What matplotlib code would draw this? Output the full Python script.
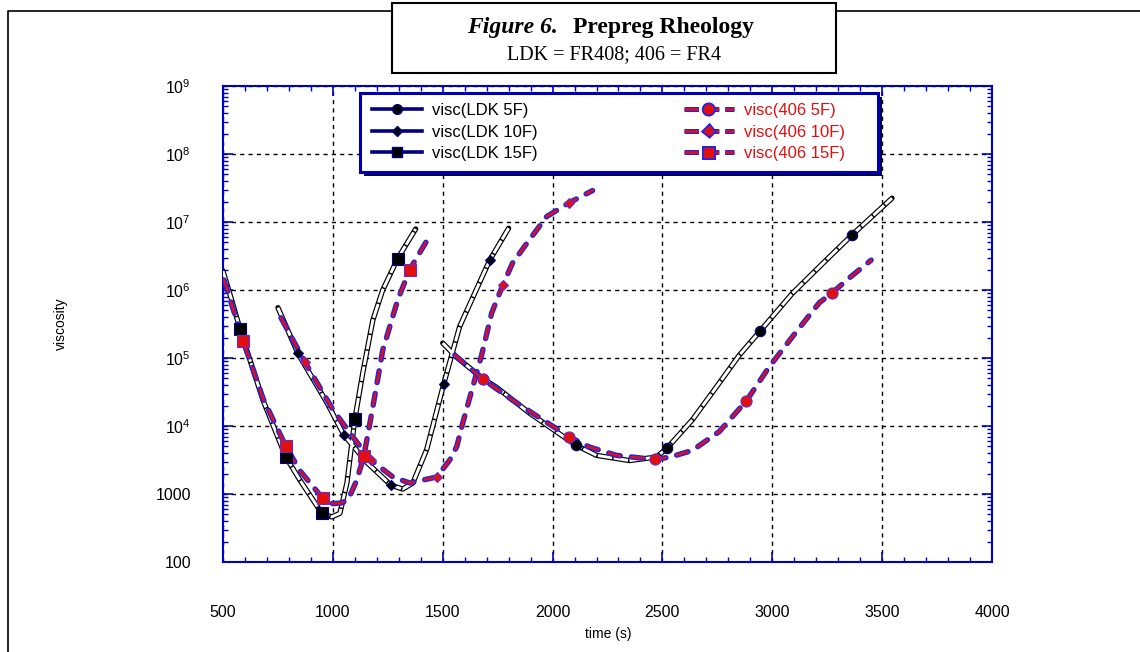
import numpy as np
import matplotlib
matplotlib.use("Agg")
import matplotlib.pyplot as plt
import matplotlib.patheffects as pe
from matplotlib.lines import Line2D
from matplotlib.patches import Rectangle
from matplotlib.ticker import FixedLocator, MultipleLocator, LogLocator, NullFormatter

plt.rcParams['font.family'] = ['Liberation Sans', 'DejaVu Sans']
plt.rcParams['mathtext.fontset'] = 'custom'
plt.rcParams['mathtext.rm'] = 'Liberation Sans'
plt.rcParams['mathtext.it'] = 'Liberation Sans:italic'

# --- data (time in s, viscosity) ---
# LDK (FR408)
t_ldk_5f = [1500, 1564, 1682, 1745, 1895, 2105, 2200, 2350, 2473, 2523, 2636, 2727,
            2850, 2945, 3091, 3245, 3364, 3545]
v_ldk_5f = [1.66e5, 1.02e5, 5.0e4, 3.7e4, 1.55e4, 5250, 3700, 3100, 3500, 4800, 1.23e4, 3.1e4,
            1.1e5, 2.5e5, 8.9e5, 2.75e6, 6.5e6, 2.24e7]
mt_ldk_5f = [1685, 2105, 2523, 2945, 3364]
mv_ldk_5f = [4.9e4, 5250, 4800, 2.5e5, 6.5e6]

t_ldk_10f = [750, 841, 973, 1050, 1155, 1264, 1318, 1364, 1427, 1505, 1577, 1714, 1800]
v_ldk_10f = [5.5e5, 1.17e5, 2.2e4, 7400, 2900, 1350, 1180, 1450, 4500, 4.2e4, 2.9e5, 2.75e6, 8.1e6]
mt_ldk_10f = [841, 1050, 1264, 1505, 1714]
mv_ldk_10f = [1.17e5, 7400, 1350, 4.2e4, 2.75e6]

t_ldk_15f = [500, 540, 577, 623, 682, 786, 850, 950, 995, 1032, 1064, 1100, 1136, 1182,
             1227, 1295, 1377]
v_ldk_15f = [1.9e6, 7.0e5, 2.7e5, 9.3e4, 2.4e4, 3500, 1600, 520, 460, 520, 1450, 1.26e4, 6.0e4, 3.6e5,
             1.0e6, 2.9e6, 7.9e6]
mt_ldk_15f = [577, 786, 950, 1100, 1295]
mv_ldk_15f = [2.7e5, 3500, 520, 1.26e4, 2.9e6]

# 406 (FR4)
t_406_5f = [1555, 1682, 1818, 1941, 2077, 2168, 2291, 2395, 2464, 2532, 2636, 2759, 2882,
            2986, 3091, 3214, 3273, 3350, 3450]
v_406_5f = [1.1e5, 4.9e4, 2.4e4, 1.32e4, 6900, 4900, 3700, 3400, 3240, 3470, 4370, 8300, 2.34e4,
            7.4e4, 2.04e5, 6.5e5, 9.1e5, 1.5e6, 2.75e6]
mt_406_5f = [1682, 2077, 2464, 2882, 3273]
mv_406_5f = [4.9e4, 6900, 3240, 2.34e4, 9.1e5]

t_406_10f = [764, 873, 1000, 1091, 1173, 1273, 1350, 1473, 1532, 1564, 1591, 1636, 1677,
             1723, 1773, 1818, 1895, 1973, 2073, 2182]
v_406_10f = [3.9e5, 8.7e4, 1.74e4, 6900, 3160, 1780, 1450, 1780, 3160, 5000, 1.1e4, 3.7e4, 1.1e5,
             4.6e5, 1.17e6, 2.5e6, 5.5e6, 1.2e7, 1.9e7, 2.9e7]
mt_406_10f = [873, 1173, 1473, 1773, 2073]
mv_406_10f = [8.7e4, 3160, 1780, 1.17e6, 1.9e7]

t_406_15f = [505, 591, 683, 785, 850, 953, 1000, 1040, 1070, 1109, 1141, 1182, 1227, 1295,
             1350, 1445]
v_406_15f = [1.4e6, 1.8e5, 2.5e4, 5100, 2200, 870, 720, 740, 830, 1600, 3600, 1.9e4, 1.3e5, 7.1e5,
             2.0e6, 6.6e6]
mt_406_15f = [591, 785, 953, 1141, 1350]
mv_406_15f = [1.8e5, 5100, 870, 3600, 2.0e6]

xticks = [500, 1000, 1500, 2000, 2500, 3000, 3500, 4000]
yticks = [1e2, 1e3, 1e4, 1e5, 1e6, 1e7, 1e8, 1e9]
ytick_labels = ['100', '1000', r'$\mathregular{10^4}$', r'$\mathregular{10^5}$',
                r'$\mathregular{10^6}$', r'$\mathregular{10^7}$', r'$\mathregular{10^8}$',
                r'$\mathregular{10^9}$']

W, H = 1140, 652
RED = '#e01010'
BLUE = '#2222ee'
NAVY = '#000080'
SPINE = '#0000cc'
DASH = (0, (4.5, 4.2))


def px(x, y):
    """pixel position (from top-left) -> figure fraction"""
    return x / W, 1 - y / H


def ldk_curve(ax, t, v):
    # white double line with small black ticks
    ax.plot(t, v, color='black', lw=3.8, solid_capstyle='round', zorder=3)
    ax.plot(t, v, color='white', lw=2.1, linestyle=(0, (5, 0.5)),
            dash_capstyle='butt', zorder=3.1)


def fr4_curve(ax, t, v):
    ax.plot(t, v, color=RED, lw=1.9, linestyle=DASH, dash_capstyle='round',
            zorder=4, path_effects=[pe.Stroke(linewidth=3.9, foreground=BLUE), pe.Normal()])


fig = plt.figure(figsize=(W / 100, H / 100), dpi=100)
ax = fig.add_axes([223 / W, 1 - 562 / H, 769 / W, 476 / H])

ldk_curve(ax, t_ldk_15f, v_ldk_15f)
ldk_curve(ax, t_ldk_10f, v_ldk_10f)
ldk_curve(ax, t_ldk_5f, v_ldk_5f)
fr4_curve(ax, t_406_15f, v_406_15f)
fr4_curve(ax, t_406_10f, v_406_10f)
fr4_curve(ax, t_406_5f, v_406_5f)

# markers
ax.plot(mt_ldk_5f, mv_ldk_5f, 'o', ms=7.5, mfc='black', mec=NAVY, mew=0.8, zorder=5)
ax.plot(mt_ldk_10f, mv_ldk_10f, 'D', ms=5.5, mfc='black', mec=NAVY, mew=0.8, zorder=5)
ax.plot(mt_ldk_15f, mv_ldk_15f, 's', ms=8, mfc='black', mec=NAVY, mew=0.8, zorder=5)
ax.plot(mt_406_5f, mv_406_5f, 'o', ms=8, mfc=RED, mec='#6a2ad0', mew=0.8, zorder=6)
ax.plot(mt_406_10f, mv_406_10f, 'D', ms=5.5, mfc=RED, mec='#6a2ad0', mew=0.8, zorder=6)
ax.plot(mt_406_15f, mv_406_15f, 's', ms=8, mfc=RED, mec='#6a2ad0', mew=0.8, zorder=6)

ax.set_yscale('log')
ax.set_xlim(500, 4000)
ax.set_ylim(100, 1e9)
ax.xaxis.set_major_locator(FixedLocator(xticks))
ax.xaxis.set_minor_locator(MultipleLocator(100))
ax.set_xticklabels([str(x) for x in xticks])
ax.yaxis.set_major_locator(FixedLocator(yticks))
ax.set_yticklabels(ytick_labels)
ax.yaxis.set_minor_locator(LogLocator(base=10, subs=np.arange(2, 10)))
ax.yaxis.set_minor_formatter(NullFormatter())

ax.grid(True, which='major', color='black', linestyle=(0, (3, 3)), lw=1.0)
for s in ax.spines.values():
    s.set_color(SPINE)
    s.set_linewidth(1.5)
ax.tick_params(which='both', direction='in', top=True, right=True, color=SPINE,
               labelsize=11.5, labelcolor='black')
ax.tick_params(which='major', length=7, width=1.2)
ax.tick_params(which='minor', length=3.5, width=1.0)
ax.tick_params(axis='x', pad=31)
ax.tick_params(axis='y', pad=23)

ax.set_xlabel('time (s)', fontsize=10)
ax.xaxis.set_label_coords((608 - 223) / 769, -(627 - 562) / 476)
ax.set_ylabel('viscosity', fontsize=10)
ax.yaxis.set_label_coords(-(223 - 68) / 769, 0.5)

# legend box (drawn by hand so it can be wider than its content) + shadow
ax.add_patch(Rectangle(px(364, 176), (878 - 360) / W, 79 / H, transform=fig.transFigure,
                       facecolor='#000050', edgecolor='none', zorder=9, clip_on=False))
ax.add_patch(Rectangle(px(360, 172), (878 - 360) / W, 79 / H, transform=fig.transFigure,
                       facecolor='white', edgecolor='#0000b0', lw=2.2, zorder=9.5, clip_on=False))

fr4_pe = [pe.Stroke(linewidth=3.6, foreground=BLUE), pe.Normal()]
handles = [
    Line2D([], [], color=NAVY, lw=2.6, marker='o', ms=7, mfc='black', mec=NAVY),
    Line2D([], [], color=NAVY, lw=2.6, marker='D', ms=5, mfc='black', mec=NAVY),
    Line2D([], [], color=NAVY, lw=2.6, marker='s', ms=7.5, mfc='black', mec=NAVY),
    Line2D([], [], color=RED, lw=1.9, linestyle=(0, (5.5, 2.2)), marker='o', ms=6.5,
           mfc=RED, mec=RED, path_effects=fr4_pe),
    Line2D([], [], color=RED, lw=1.9, linestyle=(0, (5.5, 2.2)), marker='D', ms=4.5,
           mfc=RED, mec=RED, path_effects=fr4_pe),
    Line2D([], [], color=RED, lw=1.9, linestyle=(0, (5.5, 2.2)), marker='s', ms=6.5,
           mfc=RED, mec=RED, path_effects=fr4_pe),
]
labels = ['visc(LDK 5F)', 'visc(LDK 10F)', 'visc(LDK 15F)',
          'visc(406 5F)', 'visc(406 10F)', 'visc(406 15F)']
leg = ax.legend(handles, labels, ncol=2, loc='upper left', bbox_to_anchor=px(362, 93),
                bbox_transform=fig.transFigure, borderaxespad=0, fontsize=12,
                handlelength=3.0, handletextpad=0.6, columnspacing=8.75, labelspacing=0.38,
                borderpad=0.62, frameon=False)
leg.set_zorder(10)
for txt in leg.get_texts()[3:]:
    txt.set_color(RED)

# outer frame line and title box
fig.add_artist(Line2D([8 / W, 8 / W, 1.0], [0.0, 1 - 11 / H, 1 - 11 / H],
                      transform=fig.transFigure, color='black', lw=1.2))
fig.add_artist(Rectangle(px(392, 73), (836 - 392) / W, 70 / H, transform=fig.transFigure,
                         facecolor='white', edgecolor='black', lw=1.5, zorder=5))
fig.text(*px(558, 27), 'Figure 6.', family='Liberation Serif', fontsize=17,
         fontweight='bold', style='italic', ha='right', va='center', zorder=6)
fig.text(*px(573, 27), 'Prepreg Rheology', family='Liberation Serif', fontsize=17,
         fontweight='bold', ha='left', va='center', zorder=6)
fig.text(*px(614, 55), 'LDK = FR408; 406 = FR4', family='Liberation Serif', fontsize=14.5,
         ha='center', va='center', zorder=6)

fig.savefig('out.png', dpi=100)
